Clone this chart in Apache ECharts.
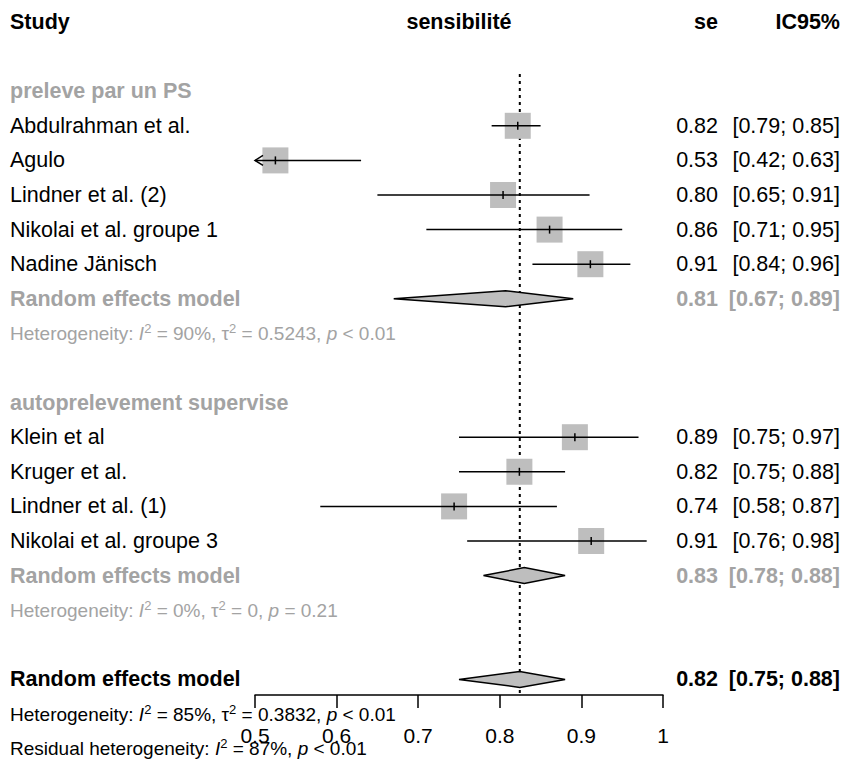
<!DOCTYPE html>
<html>
<head>
<meta charset="utf-8">
<title>Forest plot - sensibilité</title>
<script src="https://cdn.jsdelivr.net/npm/echarts@6/dist/echarts.min.js"></script>
<style>
  html, body { margin: 0; padding: 0; background: #fff; }
  #chart { width: 844px; height: 762px; }
</style>
</head>
<body>
<div id="chart"></div>
<script>
// column headers
const headers = ['Study', 'sensibilité', 'se', 'IC95%']

// subgroup titles
const groupNames = ['preleve par un PS', 'autoprelevement supervise']
const groupRows = [2, 11]

// individual studies
const studyNames = [
  'Abdulrahman et al.', 'Agulo', 'Lindner et al. (2)', 'Nikolai et al. groupe 1', 'Nadine Jänisch',
  'Klein et al', 'Kruger et al.', 'Lindner et al. (1)', 'Nikolai et al. groupe 3'
]
const studyRows = [3, 4, 5, 6, 7, 12, 13, 14, 15]
const studyEst = [0.822, 0.525, 0.804, 0.861, 0.911, 0.892, 0.824, 0.744, 0.912]
const studyLow = [0.79, 0.42, 0.65, 0.71, 0.84, 0.75, 0.75, 0.58, 0.76]
const studyHigh = [0.85, 0.63, 0.91, 0.95, 0.96, 0.97, 0.88, 0.87, 0.98]

// pooled estimates (two subgroups + overall)
const poolNames = ['Random effects model', 'Random effects model', 'Random effects model']
const poolRows = [8, 16, 19]
const poolEst = [0.807, 0.83, 0.8245]
const poolLow = [0.67, 0.78, 0.75]
const poolHigh = [0.89, 0.88, 0.88]

// heterogeneity lines
const hetRows = [9, 17, 20, 21]
const hetTexts = [
  '{t|Heterogeneity: }{i|I}{s|2}{t| = 90%, τ}{s|2}{t| = 0.5243, }{i|p}{t| < 0.01}',
  '{t|Heterogeneity: }{i|I}{s|2}{t| = 0%, τ}{s|2}{t| = 0, }{i|p}{t| = 0.21}',
  '{t|Heterogeneity: }{i|I}{s|2}{t| = 85%, τ}{s|2}{t| = 0.3832, }{i|p}{t| < 0.01}',
  '{t|Residual heterogeneity: }{i|I}{s|2}{t| = 87%, }{i|p}{t| < 0.01}'
]

// x axis
const xMin = 0.5
const xMax = 1
const xStep = 0.1
// reference line at the overall estimate
const refValue = 0.8245
const refFrom = 1.5
const refTo = 19.45

const FONT = '"Liberation Sans", Arial, sans-serif'
const GREY = '#a3a3a3'
const FILL = '#bebebe'
const COL_LABEL = 10
const COL_SE = 718
const COL_CI = 840
const FS = 21.5
const HET_FS = 19

const fmt = v => v.toFixed(2)
const ciText = (lo, hi) => '[' + fmt(lo) + '; ' + fmt(hi) + ']'

const txt = (x, y, text, opt) => ({
  type: 'text',
  x: x,
  y: y,
  style: Object.assign({
    text: text,
    fill: '#000',
    font: FS + 'px ' + FONT,
    align: 'left',
    verticalAlign: 'middle'
  }, opt || {})
})

const renderStudy = (params, api) => {
  const i = params.dataIndex
  const est = api.value(0)
  const row = api.value(1)
  const lo = api.value(2)
  const hi = api.value(3)
  const c = api.coord([est, row])
  const xl = api.coord([Math.max(lo, xMin), row])[0]
  const xh = api.coord([Math.min(hi, xMax), row])[0]
  const s = 26
  const children = [
    { type: 'rect', shape: { x: c[0] - s / 2, y: c[1] - s / 2, width: s, height: s }, style: { fill: FILL } },
    { type: 'line', shape: { x1: xl, y1: c[1], x2: xh, y2: c[1] }, style: { stroke: '#000', lineWidth: 1.5 } },
    { type: 'line', shape: { x1: c[0], y1: c[1] - 4, x2: c[0], y2: c[1] + 4 }, style: { stroke: '#000', lineWidth: 1.5 } }
  ]
  // arrow when the interval runs past the axis
  if (lo < xMin) {
    children.push({
      type: 'polyline',
      shape: { points: [[xl + 8, c[1] - 5], [xl, c[1]], [xl + 8, c[1] + 5]] },
      style: { stroke: '#000', fill: null, lineWidth: 1.5 }
    })
  }
  children.push(txt(COL_LABEL, c[1], studyNames[i]))
  children.push(txt(COL_SE, c[1], fmt(est), { align: 'right' }))
  children.push(txt(COL_CI, c[1], ciText(lo, hi), { align: 'right' }))
  return { type: 'group', children: children }
}

const renderPool = (params, api) => {
  const i = params.dataIndex
  const est = api.value(0)
  const row = api.value(1)
  const lo = api.value(2)
  const hi = api.value(3)
  const c = api.coord([est, row])
  const xl = api.coord([lo, row])[0]
  const xh = api.coord([hi, row])[0]
  const h = 8
  const overall = i === poolRows.length - 1
  const col = overall ? '#000' : GREY
  const bold = 'bold ' + FS + 'px ' + FONT
  return {
    type: 'group',
    children: [
      {
        type: 'polygon',
        shape: { points: [[xl, c[1]], [c[0], c[1] - h], [xh, c[1]], [c[0], c[1] + h]] },
        style: { fill: FILL, stroke: '#000', lineWidth: 1.5 }
      },
      txt(COL_LABEL, c[1], poolNames[i], { fill: col, font: bold }),
      txt(COL_SE, c[1], fmt(est), { fill: col, font: bold, align: 'right' }),
      txt(COL_CI, c[1], ciText(lo, hi), { fill: col, font: bold, align: 'right' })
    ]
  }
}

const renderLabels = (params, api) => {
  const kind = api.value(2)
  const y = api.coord([xMin, api.value(1)])[1]
  const bold = 'bold ' + FS + 'px ' + FONT
  if (kind === 0) {
    // header row
    const mid = api.coord([(xMin + xMax) / 2, 0])[0]
    return {
      type: 'group',
      children: [
        txt(COL_LABEL, y, headers[0], { font: bold }),
        txt(mid, y, headers[1], { font: bold, align: 'center' }),
        txt(COL_SE, y, headers[2], { font: bold, align: 'right' }),
        txt(COL_CI, y, headers[3], { font: bold, align: 'right' })
      ]
    }
  }
  if (kind === 1) {
    return txt(COL_LABEL, y, groupNames[api.value(3)], { fill: GREY, font: bold })
  }
  const k = api.value(3)
  const col = k < 2 ? GREY : '#000'
  return txt(COL_LABEL, y, hetTexts[k], {
    fill: col,
    font: HET_FS + 'px ' + FONT,
    rich: {
      t: { fill: col, fontSize: HET_FS, fontFamily: FONT, lineHeight: 23 },
      i: { fill: col, fontSize: HET_FS, fontFamily: FONT, fontStyle: 'italic', lineHeight: 23 },
      s: { fill: col, fontSize: 13, fontFamily: FONT, lineHeight: 23, verticalAlign: 'top' }
    }
  })
}

const labelData = [[xMin, 0, 0, 0]]
  .concat(groupRows.map((r, k) => [xMin, r, 1, k]))
  .concat(hetRows.map((r, k) => [xMin, r, 2, k]))

const chart = echarts.init(document.getElementById('chart'), null, { renderer: 'svg' })

chart.setOption({
  backgroundColor: '#fff',
  animation: false,
  grid: [
    { left: 255, right: 181, top: 22, bottom: 13.4 },
    { left: 255, right: 181, top: 694, height: 1 }
  ],
  xAxis: [
    { gridIndex: 0, type: 'value', min: xMin, max: xMax, show: false },
    {
      gridIndex: 1,
      type: 'value',
      min: xMin,
      max: xMax,
      interval: xStep,
      position: 'bottom',
      axisLine: { show: true, lineStyle: { color: '#000', width: 1.5 } },
      axisTick: { show: true, length: 13, lineStyle: { color: '#000', width: 1.5 } },
      axisLabel: { color: '#000', fontSize: 21, fontFamily: FONT, margin: 30 },
      splitLine: { show: false }
    }
  ],
  yAxis: [
    { gridIndex: 0, type: 'value', min: 0, max: 21, inverse: true, show: false },
    { gridIndex: 1, type: 'value', show: false }
  ],
  series: [
    {
      type: 'line',
      xAxisIndex: 0,
      yAxisIndex: 0,
      data: [[refValue, refFrom], [refValue, refTo]],
      symbol: 'none',
      silent: true,
      lineStyle: { color: '#000', width: 2, type: [3, 4] },
      z: 1
    },
    {
      type: 'custom',
      xAxisIndex: 0,
      yAxisIndex: 0,
      renderItem: renderStudy,
      data: studyNames.map((n, i) => [studyEst[i], studyRows[i], studyLow[i], studyHigh[i]]),
      z: 2
    },
    {
      type: 'custom',
      xAxisIndex: 0,
      yAxisIndex: 0,
      renderItem: renderPool,
      data: poolNames.map((n, i) => [poolEst[i], poolRows[i], poolLow[i], poolHigh[i]]),
      z: 2
    },
    {
      type: 'custom',
      xAxisIndex: 0,
      yAxisIndex: 0,
      renderItem: renderLabels,
      data: labelData,
      z: 3
    }
  ]
})
</script>
</body>
</html>
